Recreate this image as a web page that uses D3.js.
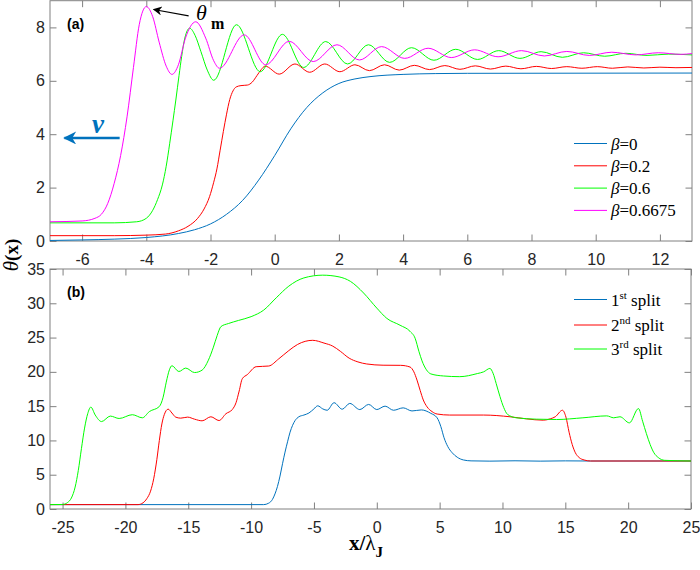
<!DOCTYPE html>
<html>
<head>
<meta charset="utf-8">
<script src="https://cdnjs.cloudflare.com/ajax/libs/d3/7.8.5/d3.min.js"></script>
<style>
body { margin: 0; background: #fff; }
.tick text { font-family: "Liberation Sans", Arial, sans-serif; font-size: 16px; fill: #262626; }
.tick line { stroke: #808080; }
</style>
</head>
<body>
<svg id="chart" width="700" height="570"></svg>
<script>
// ---- panel (a): theta(x) for different beta ----
var xTicksA = [-6, -4, -2, 0, 2, 4, 6, 8, 10, 12];
var yTicksA = [0, 2, 4, 6, 8];
var legendA = ['0', '0.2', '0.6', '0.6675'];

var beta0 = [[-7, 0.02], [-6, 0.04], [-5, 0.07], [-4, 0.13], [-3, 0.28], [-2.5, 0.42], [-2, 0.64],
    [-1.5, 1.0], [-1, 1.52], [-0.5, 2.28], [0, 3.2], [0.5, 4.2], [1, 5.0], [1.5, 5.55], [2, 5.9],
    [2.5, 6.07], [3, 6.16], [4, 6.24], [5, 6.27], [6, 6.28], [13, 6.29]];

var beta02 = [[-7, 0.2], [-5, 0.2], [-4, 0.22], [-3.4, 0.26], [-3, 0.38], [-2.7, 0.55], [-2.4, 0.85],
    [-2.2, 1.2], [-2.03, 1.66], [-1.9, 2.2], [-1.8, 2.7], [-1.7, 3.4], [-1.6, 4.1], [-1.5, 4.75],
    [-1.4, 5.3], [-1.3, 5.62], [-1.2, 5.77], [-1.05, 5.82], [-0.85, 5.84], [-0.7, 5.95], [-0.55, 6.2],
    [-0.42, 6.42], [-0.3, 6.55], [0.14, 6.25], [0.63, 6.63], [1.09, 6.32], [1.56, 6.63], [2.03, 6.34],
    [2.5, 6.6], [2.95, 6.38], [3.42, 6.6], [3.88, 6.4], [4.35, 6.58], [4.82, 6.42], [5.3, 6.57],
    [5.77, 6.43], [6.25, 6.56], [6.72, 6.44], [7.2, 6.55], [7.67, 6.45], [8.15, 6.54], [8.62, 6.46],
    [9.1, 6.53], [9.57, 6.47], [10.05, 6.53], [10.52, 6.47], [11, 6.52], [11.5, 6.48], [12, 6.51],
    [12.5, 6.49], [13, 6.5]];

var beta06 = [[-7, 0.68], [-5, 0.68], [-4.3, 0.72], [-4, 0.85], [-3.8, 1.15], [-3.65, 1.55], [-3.5, 2.1],
    [-3.38, 2.8], [-3.27, 3.66], [-3.17, 4.5], [-3.08, 5.28], [-2.98, 6.2], [-2.9, 6.9], [-2.8, 7.6],
    [-2.65, 7.97], [-2.48, 7.7], [-2.3, 7.1], [-2.1, 6.4], [-1.9, 6.02], [-1.19, 8.1], [-0.45, 6.34],
    [0.24, 7.74], [0.9, 6.5], [1.59, 7.47], [2.27, 6.63], [2.92, 7.35], [3.58, 6.69], [4.26, 7.24],
    [4.96, 6.77], [5.64, 7.18], [6.32, 6.8], [6.98, 7.13], [7.64, 6.84], [8.3, 7.09], [8.96, 6.88],
    [9.62, 7.05], [10.28, 6.92], [10.94, 7.03], [11.6, 6.95], [12.26, 7.0], [13, 6.97]];

var beta06675 = [[-7, 0.72], [-6, 0.75], [-5.6, 0.85], [-5.4, 1.0], [-5.2, 1.41], [-5.0, 2.16], [-4.8, 3.2],
    [-4.6, 4.65], [-4.4, 6.5], [-4.22, 8.1], [-4.0, 8.78], [-3.8, 8.4], [-3.6, 7.45], [-3.38, 6.55],
    [-3.2, 6.24], [-3.0, 6.6], [-2.78, 7.6], [-2.46, 8.21], [-2.15, 7.6], [-1.9, 6.75], [-1.72, 6.47],
    [-0.95, 7.72], [-0.28, 6.6], [0.45, 7.48], [1.2, 6.72], [1.94, 7.35], [2.64, 6.78], [3.33, 7.28],
    [4.05, 6.84], [4.78, 7.22], [5.5, 6.87], [6.23, 7.16], [6.96, 6.9], [7.69, 7.13], [8.4, 6.93],
    [9.1, 7.1], [9.8, 6.95], [10.5, 7.07], [11.25, 6.97], [11.95, 7.05], [12.65, 6.99], [13, 7.02]];

// ---- panel (b): splitting ----
var xTicksB = [-25, -20, -15, -10, -5, 0, 5, 10, 15, 20, 25];
var yTicksB = [0, 5, 10, 15, 20, 25, 30, 35];
var legendB = [['1', 'st'], ['2', 'nd'], ['3', 'rd']];

var split1 = [[-26, 0.64], [-9, 0.64], [-8.6, 0.85], [-8.3, 1.4], [-8.1, 2.2], [-7.9, 3.3], [-7.7, 4.8],
    [-7.5, 6.6], [-7.3, 8.3], [-7.1, 9.8], [-6.9, 11.2], [-6.7, 12.2], [-6.5, 12.9], [-6.2, 13.45],
    [-5.8, 13.7], [-5.4, 14.0], [-5.0, 14.6], [-4.7, 15.05], [-4.3, 14.6], [-3.95, 14.4], [-3.4, 15.5],
    [-2.75, 14.55], [-2.15, 15.4], [-1.35, 14.5], [-0.65, 15.25], [0, 14.5], [0.66, 15.0], [1.33, 14.4],
    [2.1, 14.75], [2.8, 14.3], [3.55, 14.45], [4.3, 13.95], [4.8, 13.3], [5.1, 12.0], [5.35, 10.4],
    [5.65, 9.1], [6.0, 8.2], [6.4, 7.55], [6.9, 7.15], [7.5, 7.02], [9, 6.98], [11, 7.03], [13, 6.98],
    [15, 7.02], [17, 7.0], [25, 7.0]];

var split2 = [[-26, 0.64], [-19, 0.64], [-18.6, 0.9], [-18.3, 1.5], [-18.0, 2.6], [-17.75, 4.4], [-17.5, 7.2],
    [-17.3, 10.0], [-17.1, 12.4], [-16.9, 13.8], [-16.6, 14.56], [-16.3, 14.0], [-16.0, 13.4], [-15.6, 13.25],
    [-15.05, 13.4], [-14.5, 13.1], [-13.9, 12.86], [-13.2, 13.45], [-12.55, 12.9], [-12.0, 13.9], [-11.5, 14.5],
    [-11.2, 15.5], [-10.95, 17.2], [-10.7, 19.0], [-10.3, 19.6], [-9.6, 20.75], [-8.6, 20.85], [-7.8, 21.9],
    [-7.0, 23.1], [-6.3, 24.0], [-5.1, 24.6], [-4.2, 24.2], [-3.5, 23.75], [-2.9, 23.0], [-2.2, 22.0],
    [-1.5, 21.45], [-0.8, 21.15], [0.5, 20.97], [1.9, 20.95], [2.65, 20.7], [2.95, 20.0], [3.2, 18.8],
    [3.45, 17.3], [3.7, 15.9], [4.0, 14.9], [4.4, 14.2], [4.8, 13.85], [5.8, 13.7], [8.5, 13.7],
    [10.6, 13.45], [11.9, 13.15], [13.25, 12.95], [13.8, 13.15], [14.2, 13.45], [14.77, 14.4], [15.05, 13.4],
    [15.3, 11.2], [15.55, 9.4], [15.8, 8.2], [16.1, 7.5], [16.5, 7.15], [17.0, 7.0], [25, 7.0]];

var split3 = [[-26, 0.64], [-25, 0.66], [-24.6, 0.95], [-24.3, 1.6], [-24.0, 3.2], [-23.75, 5.6], [-23.5, 8.8],
    [-23.25, 11.8], [-23.0, 13.9], [-22.75, 14.86], [-22.4, 13.7], [-21.9, 12.75], [-21.2, 13.55], [-20.5, 13.2],
    [-19.45, 13.75], [-18.65, 13.3], [-18.1, 14.2], [-17.3, 14.95], [-17.0, 16.3], [-16.75, 18.5], [-16.5, 20.3],
    [-16.3, 20.9], [-15.75, 20.05], [-15.2, 20.55], [-14.5, 19.9], [-13.9, 20.25], [-13.4, 21.7], [-13.0, 23.6],
    [-12.7, 25.3], [-12.4, 26.6], [-11.8, 27.05], [-11.0, 27.5], [-10.0, 28.05], [-9.0, 29.0], [-8.0, 30.8],
    [-7.0, 32.5], [-5.8, 33.7], [-4.3, 34.1], [-3.0, 33.85], [-2.1, 33.2], [-1.05, 31.5], [0, 29.3],
    [0.8, 27.8], [1.85, 26.8], [2.65, 25.9], [3.05, 24.9], [3.35, 23.0], [3.6, 21.6], [3.95, 20.3],
    [4.3, 19.7], [5.3, 19.4], [6.6, 19.3], [8.0, 19.75], [8.5, 20.0], [9.0, 20.5], [9.25, 19.8],
    [9.5, 18.3], [9.8, 16.4], [10.1, 14.8], [10.4, 13.8], [11.1, 13.3], [12.7, 13.1], [14.3, 13.05],
    [16.4, 13.3], [18.3, 13.58], [18.85, 13.3], [19.35, 13.45], [20.1, 12.56], [20.82, 14.65], [21.15, 12.8],
    [21.45, 11.0], [21.75, 9.4], [22.05, 8.2], [22.4, 7.5], [22.9, 7.1], [25, 7.0]];

var colors = ['#0072BD', '#FF0000', '#00FF00', '#FF00FF'];

var svg = d3.select('#chart');
svg.append('rect').attr('width', 700).attr('height', 570).attr('fill', '#fff');

// draws box + mirrored inward ticks, returns scales
function drawPanel(id, left, right, top, bottom, xDom, yDom, xTicks, yTicks) {
    var x = d3.scaleLinear().domain(xDom).range([left, right]);
    var y = d3.scaleLinear().domain(yDom).range([bottom, top]);
    var fmt = function (d) { return String(d); };
    var tl = 6.5;

    svg.append('clipPath').attr('id', 'clip' + id)
        .append('rect').attr('x', left).attr('y', top)
        .attr('width', right - left).attr('height', bottom - top);

    svg.append('g').attr('transform', 'translate(0,' + bottom + ')')
        .call(d3.axisBottom(x).tickValues(xTicks).tickFormat(fmt).tickSizeInner(-tl).tickSizeOuter(0).tickPadding(13))
        .call(function (g) { g.select('.domain').remove(); });
    svg.append('g').attr('transform', 'translate(0,' + top + ')')
        .call(d3.axisTop(x).tickValues(xTicks).tickFormat('').tickSizeInner(-tl).tickSizeOuter(0))
        .call(function (g) { g.select('.domain').remove(); });
    svg.append('g').attr('transform', 'translate(' + left + ',0)')
        .call(d3.axisLeft(y).tickValues(yTicks).tickFormat(fmt).tickSizeInner(-tl).tickSizeOuter(0).tickPadding(5))
        .call(function (g) { g.select('.domain').remove(); });
    svg.append('g').attr('transform', 'translate(' + right + ',0)')
        .call(d3.axisRight(y).tickValues(yTicks).tickFormat('').tickSizeInner(-tl).tickSizeOuter(0))
        .call(function (g) { g.select('.domain').remove(); });

    svg.append('rect')
        .attr('x', left).attr('y', top)
        .attr('width', right - left).attr('height', bottom - top)
        .attr('fill', 'none').attr('stroke', '#808080').attr('stroke-width', 1);

    return { x: x, y: y, clip: 'url(#clip' + id + ')' };
}

function drawCurves(p, series) {
    var line = d3.line()
        .x(function (d) { return p.x(d[0]); })
        .y(function (d) { return p.y(d[1]); })
        .curve(d3.curveMonotoneX);
    svg.append('g').attr('clip-path', p.clip)
        .selectAll('path')
        .data(series)
        .enter().append('path')
        .attr('d', line)
        .attr('fill', 'none')
        .attr('stroke', function (d, i) { return colors[i]; })
        .attr('stroke-width', 1);
}

var pa = drawPanel('a', 50, 692, 0.7, 241, [-7, 13], [0, 9], xTicksA, yTicksA);
var pb = drawPanel('b', 50, 691, 269, 509, [-26, 25], [0, 35], xTicksB, yTicksB);

drawCurves(pa, [beta0, beta02, beta06, beta06675]);
drawCurves(pb, [split1, split2, split3]);

// legends
var serif = '"Liberation Serif", "Times New Roman", serif';
var legA = svg.append('g');
legendA.forEach(function (t, i) {
    var yy = 143.5 + i * 22.3;
    legA.append('line').attr('x1', 574).attr('x2', 607).attr('y1', yy).attr('y2', yy)
        .attr('stroke', colors[i]).attr('stroke-width', 1);
    var tx = legA.append('text').attr('x', 611).attr('y', yy + 6)
        .style('font-family', serif).style('font-size', '17px').attr('fill', '#000');
    tx.append('tspan').style('font-style', 'italic').text('β');
    tx.append('tspan').text('=' + t);
});

var legB = svg.append('g');
var legBy = [299.5, 325, 349];
legendB.forEach(function (t, i) {
    var yy = legBy[i];
    legB.append('line').attr('x1', 574).attr('x2', 607).attr('y1', yy).attr('y2', yy)
        .attr('stroke', colors[i]).attr('stroke-width', 1);
    var tx = legB.append('text').attr('x', 611).attr('y', yy + 6)
        .style('font-family', serif).style('font-size', '17px').attr('fill', '#000');
    tx.append('tspan').text(t[0]);
    tx.append('tspan').attr('dy', -7).style('font-size', '11px').text(t[1]);
    tx.append('tspan').attr('dy', 7).text(' split');
});

// panel labels
svg.append('text').attr('x', 67).attr('y', 29).text('(a)')
    .style('font-family', '"Liberation Sans", Arial, sans-serif').style('font-weight', 'bold').style('font-size', '14px');
svg.append('text').attr('x', 67).attr('y', 297).text('(b)')
    .style('font-family', '"Liberation Sans", Arial, sans-serif').style('font-weight', 'bold').style('font-size', '14px');

// arrows
svg.append('defs').html(
    '<marker id="headK" viewBox="0 0 10 10" refX="9" refY="5" markerWidth="10" markerHeight="9" markerUnits="userSpaceOnUse" orient="auto">' +
    '<path d="M0,0 L10,5 L0,10 L3,5 Z" fill="#000"/></marker>' +
    '<marker id="headB" viewBox="0 0 10 10" refX="9" refY="5" markerWidth="18" markerHeight="13" markerUnits="userSpaceOnUse" orient="auto">' +
    '<path d="M0,0 L10,5 L0,10 L3,5 Z" fill="#0072BD"/></marker>');

// theta_m arrow (data coords)
svg.append('line')
    .attr('x1', pa.x(-2.68)).attr('y1', pa.y(8.43))
    .attr('x2', pa.x(-3.77)).attr('y2', pa.y(8.67))
    .attr('stroke', '#000').attr('stroke-width', 1.2).attr('marker-end', 'url(#headK)');
var tm = svg.append('text').attr('x', 196).attr('y', 20).style('font-family', serif);
tm.append('tspan').style('font-style', 'italic').style('font-size', '22px').text('θ');
tm.append('tspan').attr('x', 211).attr('y', 28.5).style('font-weight', 'bold').style('font-size', '16px').text('m');

// velocity arrow
svg.append('line')
    .attr('x1', pa.x(-4.83)).attr('y1', pa.y(3.86))
    .attr('x2', pa.x(-6.55)).attr('y2', pa.y(3.86))
    .attr('stroke', '#0072BD').attr('stroke-width', 2.4).attr('marker-end', 'url(#headB)');
svg.append('text').attr('x', 92).attr('y', 133).text('ν')
    .style('font-family', serif).style('font-style', 'italic').style('font-weight', 'bold')
    .style('font-size', '27px').attr('fill', '#0072BD');

// axis labels
var yl = svg.append('text').attr('transform', 'translate(18,255) rotate(-90)')
    .attr('text-anchor', 'middle').style('font-family', serif).attr('fill', '#000');
yl.append('tspan').style('font-style', 'italic').style('font-size', '21px').text('θ');
yl.append('tspan').style('font-weight', 'bold').style('font-size', '19px').text('(x)');

var xl = svg.append('text').attr('x', 349).attr('y', 550).style('font-family', serif).attr('fill', '#000');
xl.append('tspan').style('font-weight', 'bold').style('font-size', '21px').text('x/');
xl.append('tspan').style('font-size', '21px').text('λ');
xl.append('tspan').attr('dy', 7).style('font-weight', 'bold').style('font-size', '15px').text('J');
</script>
</body>
</html>
